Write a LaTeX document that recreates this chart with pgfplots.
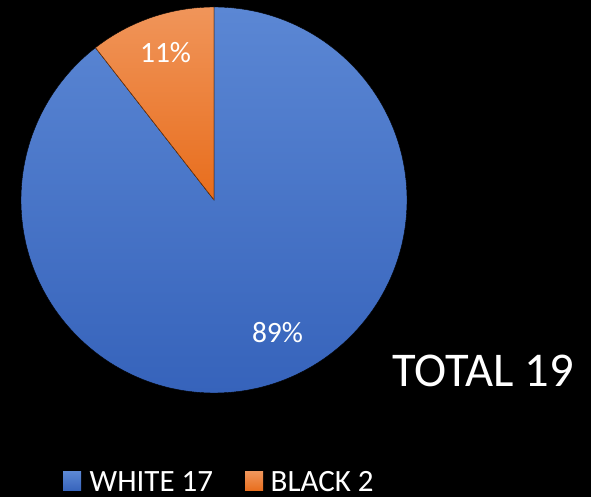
\documentclass[border=0pt]{standalone}
\usepackage{pgfplots}
\usepackage{pgfplotstable}
\pgfplotsset{compat=1.18}
\usepackage{fontspec}
\setmainfont{Carlito}

\definecolor{blueTop}{HTML}{5B87D4}
\definecolor{blueBot}{HTML}{3663BB}
\definecolor{orTop}{HTML}{F0955A}
\definecolor{orBot}{HTML}{E86D1C}

\pgfplotstableread{
cid label value
0 WHITE 17
1 BLACK 2
}\piedata
\pgfplotstablecreatecol[expr accum={\pgfmathaccuma + \thisrow{value}}{0}]{cum}\piedata
\pgfplotstablegetelem{1}{cum}\of\piedata
\pgfmathsetmacro\pieTot{\pgfplotsretval}

\pgfdeclareplotmark{pieslice}{%
  \ifdim\pieC pt<0.5pt
    \shade[top color=blueTop,bottom color=blueBot] (0pt,0pt) -- (\pieS:193bp) arc[start angle=\pieS,end angle=\pieE,radius=193bp] -- cycle;
  \else
    \shade[top color=orTop,bottom color=orBot] (0pt,0pt) -- (\pieS:193bp) arc[start angle=\pieS,end angle=\pieE,radius=193bp] -- cycle;
    \draw[orBot!75!black,line width=0.3bp] (\pieS:193bp) -- (0pt,0pt) -- (\pieE:193bp);
  \fi
}

\begin{document}
\begin{tikzpicture}
\fill[black] (0,0) rectangle (591bp,497bp);
\begin{axis}[at={(214bp,297bp)}, anchor=center, scale only axis,
  width=386bp, height=386bp, xmin=-1, xmax=1, ymin=-1, ymax=1,
  hide axis, clip=false]
\addplot[only marks, mark=pieslice,
  visualization depends on={\thisrow{cid} \as \pieC},
  visualization depends on={90-360*(\thisrow{cum}-\thisrow{value})/\pieTot \as \pieS},
  visualization depends on={90-360*\thisrow{cum}/\pieTot \as \pieE}]
  table[x expr=0, y expr=0] {\piedata};
\coordinate (lblB) at (axis cs:-0.251,0.710);
\coordinate (lblW) at (axis cs:0.329,-0.736);
\end{axis}
\node[anchor=base, text=white, inner sep=0pt, font=\fontsize{29.5bp}{32bp}\selectfont] at (lblB) {11\%};
\node[anchor=base, text=white, inner sep=0pt, font=\fontsize{29.5bp}{32bp}\selectfont] at (lblW) {89\%};
\node[anchor=base west, text=white, inner sep=0pt, font=\fontsize{48.5bp}{52bp}\selectfont] at (392.5bp,110bp) {TOTAL 19};
\shade[top color=blueTop, bottom color=blueBot] (63bp,6bp) rectangle (81bp,25bp);
\node[anchor=base west, text=white, inner sep=0pt, font=\fontsize{31bp}{34bp}\selectfont] at (89.5bp,6bp) {WHITE 17};
\shade[top color=orTop, bottom color=orBot] (245bp,6bp) rectangle (263bp,25bp);
\node[anchor=base west, text=white, inner sep=0pt, font=\fontsize{31bp}{34bp}\selectfont] at (270.5bp,6bp) {BLACK 2};
\pgfresetboundingbox
\useasboundingbox (0,0) rectangle (591bp,497bp);
\end{tikzpicture}
\end{document}
